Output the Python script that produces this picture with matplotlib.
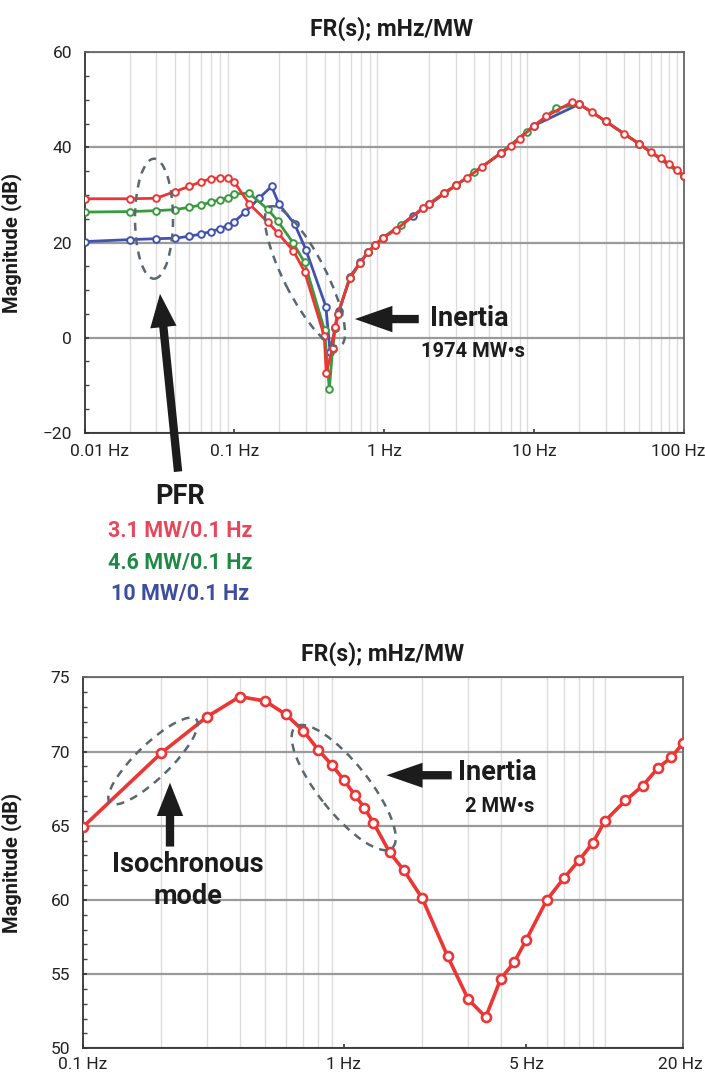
import matplotlib
matplotlib.use("Agg")
import matplotlib.pyplot as plt
from matplotlib.patches import Ellipse
from matplotlib.transforms import ScaledTranslation
from matplotlib.ticker import FixedLocator, LogLocator, MultipleLocator, NullFormatter

plt.rcParams['font.family'] = ['Roboto', 'DejaVu Sans']

# ---- top panel: grid response for three PFR droop settings ----
f_red = [0.01, 0.02, 0.03, 0.04, 0.05, 0.06, 0.07, 0.08, 0.09, 0.1, 0.125, 0.167, 0.195,
         0.248, 0.294, 0.398, 0.41, 0.452, 0.468, 0.49, 0.59, 0.69, 0.78, 0.87, 0.98,
         1.2, 1.8, 2.0, 2.5, 3.0, 3.55, 4.5, 6.0, 7.0, 8.0, 10, 12, 17.8, 20, 24.5,
         30, 40, 50, 60, 70, 80, 90, 100]
db_red = [29.2, 29.2, 29.3, 30.7, 31.8, 32.8, 33.4, 33.6, 33.5, 32.7, 28.2, 24.3, 22.0,
          18.2, 13.9, 0.3, -7.5, -2.1, 2.3, 5.0, 12.5, 15.7, 18.0, 19.5, 21.0,
          22.7, 27.2, 28.0, 30.4, 32.0, 33.6, 35.9, 38.8, 40.2, 41.8, 44.6, 46.5, 49.5, 49.1, 47.4,
          45.5, 42.8, 40.8, 39.0, 37.8, 36.5, 35.3, 34.0]

f_green = [0.01, 0.02, 0.03, 0.04, 0.05, 0.06, 0.07, 0.08, 0.09, 0.1, 0.125, 0.167, 0.195,
           0.248, 0.294, 0.4, 0.43, 0.452, 0.47, 0.49, 0.59, 0.69, 0.78, 0.87, 0.98,
           1.3, 1.8, 2.5, 3.0, 4.0, 6.0, 9.0, 14, 20, 30, 50, 100]
db_green = [26.4, 26.5, 26.7, 26.9, 27.4, 27.9, 28.5, 29.0, 29.4, 30.2, 30.4, 27.0, 24.5,
            19.8, 15.8, 1.5, -10.9, -2.5, 2.0, 5.0, 12.5, 15.7, 18.0, 19.5, 21.0,
            23.6, 27.2, 30.4, 32.0, 34.8, 38.8, 43.3, 48.2, 49.1, 45.5, 40.8, 34.0]

f_blue = [0.01, 0.02, 0.03, 0.04, 0.05, 0.06, 0.07, 0.08, 0.09, 0.1, 0.118, 0.146, 0.177,
          0.199, 0.252, 0.3, 0.408, 0.435, 0.47, 0.5, 0.59, 0.69, 0.78, 0.87, 0.98,
          1.56, 2.0, 3.0, 6.0, 10, 20, 30, 50, 100]
db_blue = [20.2, 20.6, 20.8, 20.9, 21.3, 21.8, 22.3, 22.9, 23.5, 24.4, 26.4, 29.3, 31.8,
           28.0, 23.9, 18.5, 6.5, -3.0, 2.0, 5.5, 12.8, 15.8, 18.0, 19.5, 21.0,
           25.6, 28.0, 32.0, 38.8, 44.6, 49.1, 45.5, 40.8, 34.0]

top_ticks = [0.01, 0.1, 1, 10, 100]
top_labels = ["0.01 Hz", "0.1 Hz", "1 Hz", "10 Hz", "100 Hz"]
pfr_labels = ["3.1 MW/0.1 Hz", "4.6 MW/0.1 Hz", "10 MW/0.1 Hz"]

# ---- bottom panel: isochronous mode ----
f_iso = [0.1, 0.2, 0.3, 0.4, 0.5, 0.6, 0.7, 0.8, 0.9, 1.0, 1.1, 1.2, 1.3, 1.5, 1.7, 2.0,
         2.5, 3.0, 3.5, 4.0, 4.5, 5.0, 6.0, 7.0, 8.0, 9.0, 10, 12, 14, 16, 18, 20]
db_iso = [64.9, 69.9, 72.35, 73.7, 73.4, 72.5, 71.4, 70.1, 69.1, 68.1, 67.1, 66.2, 65.2, 63.2,
          62.0, 60.1, 56.2, 53.3, 52.1, 54.7, 55.8, 57.3, 60.0, 61.5, 62.7, 63.85, 65.3,
          66.7, 67.7, 68.9, 69.6, 70.6]

bot_ticks = [0.1, 1, 5, 20]
bot_labels = ["0.1 Hz", "1 Hz", "5 Hz", "20 Hz"]

RED = '#ee3535'
GREEN = '#3a9a40'
BLUE = '#4252b0'
TXT_RED = '#e8465a'
TXT_GREEN = '#1f8a45'
TXT_BLUE = '#3d4ea0'
INK = '#1c1c1c'
DASH = '#5b6770'

fig = plt.figure(figsize=(7.05, 10.78), dpi=100)
ax1 = fig.add_axes([0.11986, 0.59861, 0.85035, 0.35287])
ax2 = fig.add_axes([0.1173, 0.02755, 0.85192, 0.34415])


def style_axes(ax, yminor, xpad):
    ax.set_xscale('log')
    ax.set_axisbelow(True)
    ax.xaxis.set_minor_locator(LogLocator(base=10, subs=range(1, 10)))
    ax.xaxis.set_minor_formatter(NullFormatter())
    ax.yaxis.set_minor_locator(MultipleLocator(yminor))
    ax.grid(which='minor', axis='x', color='#dcdcdc', lw=1.0)
    ax.grid(which='major', axis='y', color='#9a9a9a', lw=1.6)
    ax.tick_params(axis='both', which='major', direction='in', length=3, width=1.2,
                   color='#333333', labelsize=12.5, labelcolor='#222222')
    ax.tick_params(axis='x', which='major', pad=xpad)
    ax.tick_params(axis='y', which='major', pad=9)
    ax.tick_params(axis='x', which='minor', length=0)
    ax.tick_params(axis='y', which='minor', direction='in', length=3, width=1.0, color='#444444')
    for side in ['top', 'right']:
        ax.spines[side].set_color('#666666')
        ax.spines[side].set_linewidth(1.3)
    for side in ['left', 'bottom']:
        ax.spines[side].set_color('#333333')
        ax.spines[side].set_linewidth(1.3)
    ax.set_ylabel("Magnitude (dB)", fontsize=14.5, fontweight='bold', color=INK)
    ax.set_title("FR(s); mHz/MW", fontsize=16.5, fontweight='bold', color=INK, pad=12)


def dashed_ellipse(ax, f, db, w, h, angle):
    tr = fig.dpi_scale_trans + ScaledTranslation(f, db, ax.transData)
    e = Ellipse((0, 0), w, h, angle=angle, transform=tr, fill=False,
                ls=(0, (3.2, 2.6)), lw=1.8, ec=DASH, clip_on=False, zorder=5)
    ax.add_artist(e)


def block_arrow(ax, f, db, dx, dy, hl=1.2, hw=0.95):
    ax.annotate('', xy=(f, db), xytext=(dx, dy), textcoords='offset points',
                annotation_clip=False,
                arrowprops=dict(arrowstyle='simple,head_length=%g,head_width=%g,tail_width=0.3' % (hl, hw),
                                mutation_scale=20, fc=INK, ec='none', shrinkA=0, shrinkB=0))


# ---------------- top chart ----------------
style_axes(ax1, 5, 8)
ax1.plot(f_blue, db_blue, '-o', color=BLUE, lw=2.0, ms=4.8, mfc='white', mew=1.4, zorder=3)
ax1.plot(f_green, db_green, '-o', color=GREEN, lw=2.0, ms=4.8, mfc='white', mew=1.4, zorder=3)
ax1.plot(f_red, db_red, '-o', color=RED, lw=2.0, ms=4.8, mfc='white', mew=1.4, zorder=4)
ax1.set_xlim(0.01, 100)
ax1.set_ylim(-20, 60)
ax1.yaxis.set_major_locator(MultipleLocator(20))
ax1.xaxis.set_major_locator(FixedLocator(top_ticks))
ax1.set_xticklabels(top_labels)
ax1.get_xticklabels()[0].set_transform(ax1.get_xticklabels()[0].get_transform()
                                       + ScaledTranslation(0.15, 0, fig.dpi_scale_trans))
ax1.get_xticklabels()[-1].set_transform(ax1.get_xticklabels()[-1].get_transform()
                                        + ScaledTranslation(-0.06, 0, fig.dpi_scale_trans))
ax1.yaxis.set_label_coords(-0.104, 0.5)
ax1.title.set_x(0.513)

dashed_ellipse(ax1, 0.0291, 25.0, 0.38, 1.2, 0)
dashed_ellipse(ax1, 0.296, 12.9, 1.56, 0.42, -63)
block_arrow(ax1, 0.0319, 9.2, 13, -128)
block_arrow(ax1, 0.637, 3.9, 46, 0, hl=1.35, hw=0.95)

fig.text(430 / 705, 1 - 319 / 1078, "Inertia", fontsize=19.5, fontweight='bold', color=INK,
         ha='left', va='center')
fig.text(473 / 705, 1 - 352 / 1078, "1974 MW\u2022s", fontsize=14.5, fontweight='bold', color=INK,
         ha='center', va='center')
fig.text(180 / 705, 1 - 496 / 1078, "PFR", fontsize=19.5, fontweight='bold', color=INK,
         ha='center', va='center')
for lab, col, ypx in zip(pfr_labels, [TXT_RED, TXT_GREEN, TXT_BLUE], [531, 563, 594]):
    fig.text(180 / 705, 1 - ypx / 1078, lab, fontsize=15.5, fontweight='bold', color=col,
             ha='center', va='center')

# ---------------- bottom chart ----------------
style_axes(ax2, 1, 6)
ax2.plot(f_iso, db_iso, '-o', color=RED, lw=2.6, ms=6.5, mfc='white', mew=1.9, zorder=4)
ax2.set_xlim(0.1, 20)
ax2.set_ylim(50, 75)
ax2.yaxis.set_major_locator(MultipleLocator(5))
ax2.xaxis.set_major_locator(FixedLocator(bot_ticks))
ax2.set_xticklabels(bot_labels)
ax2.get_xticklabels()[-1].set_transform(ax2.get_xticklabels()[-1].get_transform()
                                        + ScaledTranslation(-0.03, 0, fig.dpi_scale_trans))
ax2.yaxis.set_label_coords(-0.101, 0.5)

dashed_ellipse(ax2, 0.186, 69.36, 1.2, 0.34, 44)
dashed_ellipse(ax2, 1.0, 67.57, 1.55, 0.5, -51.5)
block_arrow(ax2, 0.216, 67.9, 0, -46, hl=1.2, hw=0.95)
block_arrow(ax2, 1.458, 68.4, 47, 0, hl=1.3, hw=0.9)

fig.text(188 / 705, 1 - 864 / 1078, "Isochronous", fontsize=19.5, fontweight='bold', color=INK,
         ha='center', va='center')
fig.text(188 / 705, 1 - 896 / 1078, "mode", fontsize=19.5, fontweight='bold', color=INK,
         ha='center', va='center')
fig.text(458 / 705, 1 - 772 / 1078, "Inertia", fontsize=19.5, fontweight='bold', color=INK,
         ha='left', va='center')
fig.text(500 / 705, 1 - 807 / 1078, "2 MW\u2022s", fontsize=14.5, fontweight='bold', color=INK,
         ha='center', va='center')

fig.savefig("out.png", dpi=100)
